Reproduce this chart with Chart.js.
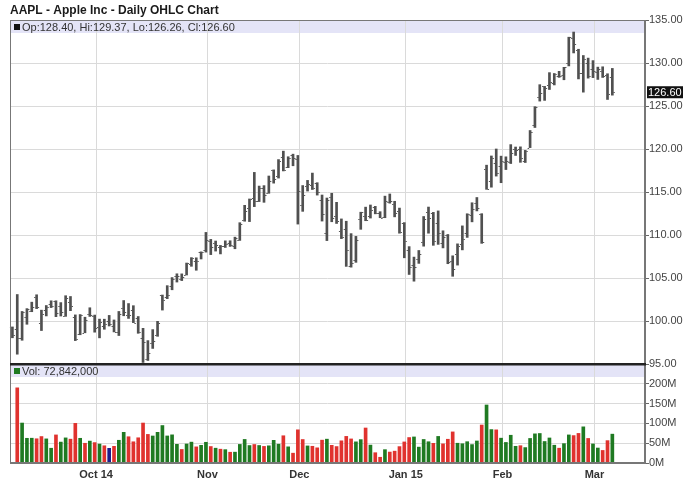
<!DOCTYPE html>
<html>
<head>
<meta charset="utf-8">
<script src="https://cdn.jsdelivr.net/npm/chart.js@4.4.0/dist/chart.umd.min.js"></script>
<style>
  html, body { margin: 0; padding: 0; background: #fff; }
</style>
</head>
<body>
<canvas id="grafico" width="688" height="503"></canvas>
<script>
// Dias de pregão (AAPL, set/2014 a mar/2015)
const dates = [
  '2014-09-08','2014-09-09','2014-09-10','2014-09-11','2014-09-12',
  '2014-09-15','2014-09-16','2014-09-17','2014-09-18','2014-09-19',
  '2014-09-22','2014-09-23','2014-09-24','2014-09-25','2014-09-26',
  '2014-09-29','2014-09-30',
  '2014-10-01','2014-10-02','2014-10-03',
  '2014-10-06','2014-10-07','2014-10-08','2014-10-09','2014-10-10',
  '2014-10-13','2014-10-14','2014-10-15','2014-10-16','2014-10-17',
  '2014-10-20','2014-10-21','2014-10-22','2014-10-23','2014-10-24',
  '2014-10-27','2014-10-28','2014-10-29','2014-10-30','2014-10-31',
  '2014-11-03','2014-11-04','2014-11-05','2014-11-06','2014-11-07',
  '2014-11-10','2014-11-11','2014-11-12','2014-11-13','2014-11-14',
  '2014-11-17','2014-11-18','2014-11-19','2014-11-20','2014-11-21',
  '2014-11-24','2014-11-25','2014-11-26','2014-11-28',
  '2014-12-01','2014-12-02','2014-12-03','2014-12-04','2014-12-05',
  '2014-12-08','2014-12-09','2014-12-10','2014-12-11','2014-12-12',
  '2014-12-15','2014-12-16','2014-12-17','2014-12-18','2014-12-19',
  '2014-12-22','2014-12-23','2014-12-24','2014-12-26',
  '2014-12-29','2014-12-30','2014-12-31',
  '2015-01-02',
  '2015-01-05','2015-01-06','2015-01-07','2015-01-08','2015-01-09',
  '2015-01-12','2015-01-13','2015-01-14','2015-01-15','2015-01-16',
  '2015-01-20','2015-01-21','2015-01-22','2015-01-23',
  '2015-01-26','2015-01-27','2015-01-28','2015-01-29','2015-01-30',
  '2015-02-02','2015-02-03','2015-02-04','2015-02-05','2015-02-06',
  '2015-02-09','2015-02-10','2015-02-11','2015-02-12','2015-02-13',
  '2015-02-17','2015-02-18','2015-02-19','2015-02-20',
  '2015-02-23','2015-02-24','2015-02-25','2015-02-26','2015-02-27',
  '2015-03-02','2015-03-03','2015-03-04','2015-03-05','2015-03-06'
];

const opens = [
  99.30, 99.08, 98.01, 100.41, 101.21, 102.81, 99.80, 101.27, 101.93, 102.29,
  101.80, 100.60, 102.16, 100.51, 98.53, 98.65, 100.81,
  100.59, 99.27, 99.44, 99.95, 99.43, 98.76, 101.54, 100.69, 101.33, 100.39,
  97.97, 95.55, 97.50, 98.32, 103.02, 102.84, 104.08, 105.18, 104.85, 105.40,
  106.65, 106.96, 108.01,
  108.22, 109.36, 109.10, 108.60, 108.75, 109.02, 108.70, 109.38, 111.80, 113.15,
  114.27, 113.94, 115.44, 114.91, 117.51, 116.85, 119.07, 117.94, 119.27,
  118.81, 113.50, 115.75, 115.77, 115.99, 114.10, 110.19, 114.41, 112.26, 110.46,
  110.70, 106.37, 107.12, 111.87, 112.26, 112.16, 113.23, 112.58, 112.10, 113.79,
  113.64, 112.82,
  111.39, 108.29, 106.54, 107.20, 109.23, 112.67, 112.60, 111.43, 109.04, 110.00,
  107.03, 107.84, 108.95, 110.26, 112.30, 113.74, 112.42, 117.63, 116.32, 118.40,
  118.05, 118.50, 118.50, 120.02, 120.02, 118.55, 120.17, 122.77, 126.06, 127.28,
  127.49, 127.63, 128.48, 128.62, 130.02, 132.94, 131.56, 128.79, 130.00,
  129.25, 128.96, 129.10, 128.58, 128.40
];

const highs = [
  99.31, 103.08, 101.11, 101.44, 102.19, 103.05, 101.26, 101.80, 102.35, 102.35,
  102.14, 102.94, 102.85, 100.71, 100.75, 100.44, 101.54,
  100.69, 100.22, 100.21, 100.65, 100.12, 101.11, 102.38, 102.03, 101.78, 100.52,
  99.15, 97.72, 99.00, 99.96, 103.02, 104.11, 105.05, 105.49, 105.48, 106.74,
  107.37, 107.35, 108.04,
  110.30, 109.49, 109.30, 108.79, 109.32, 109.33, 109.75, 111.43, 113.45, 114.19,
  117.28, 115.69, 115.74, 116.86, 117.57, 118.77, 119.75, 119.10, 119.40,
  119.25, 115.75, 116.35, 117.20, 116.08, 114.65, 114.30, 114.85, 113.80, 111.87,
  111.60, 110.16, 109.84, 112.65, 113.24, 113.49, 113.33, 112.71, 114.52, 114.77,
  113.92, 113.13,
  111.44, 108.65, 107.43, 108.20, 112.15, 113.25, 112.63, 112.80, 110.49, 110.06,
  107.58, 108.97, 111.06, 112.47, 113.75, 114.36, 112.48, 118.12, 119.19, 120.00,
  119.17, 119.09, 120.51, 120.23, 120.25, 119.84, 122.15, 124.92, 127.48, 127.28,
  128.88, 128.78, 129.03, 129.50, 133.00, 133.60, 131.60, 130.87, 130.57,
  130.28, 129.52, 129.56, 128.75, 129.37
];

const lows = [
  98.05, 96.14, 97.76, 99.62, 101.08, 101.44, 98.89, 100.59, 101.56, 100.50,
  100.58, 100.54, 101.20, 97.72, 98.40, 98.63, 100.53,
  98.70, 98.04, 99.04, 99.42, 98.73, 98.31, 100.61, 100.30, 99.81, 98.57,
  95.18, 95.41, 96.81, 98.22, 101.27, 102.60, 103.63, 104.53, 104.70, 105.35,
  106.36, 105.90, 107.21,
  108.01, 107.72, 108.13, 107.80, 108.55, 108.67, 108.40, 109.37, 111.60, 111.56,
  113.30, 113.89, 113.80, 114.85, 116.03, 116.62, 117.45, 117.83, 118.05,
  111.27, 112.75, 115.11, 115.29, 114.64, 111.62, 109.35, 111.54, 111.34, 109.58,
  106.35, 106.26, 106.82, 110.66, 111.66, 111.97, 112.46, 112.01, 112.01, 113.70,
  112.11, 110.21,
  107.35, 105.41, 104.63, 106.70, 108.70, 110.21, 108.80, 108.91, 108.50, 106.66,
  105.20, 106.50, 108.27, 109.72, 111.53, 112.80, 109.03, 115.31, 115.56, 116.85,
  116.08, 117.61, 118.31, 119.25, 118.45, 118.43, 120.16, 122.50, 125.57, 125.65,
  126.92, 127.45, 128.33, 128.05, 129.66, 131.17, 128.15, 126.61, 128.24,
  128.30, 128.09, 128.32, 125.76, 126.26
];

const closes = [
  98.36, 97.99, 101.00, 101.43, 101.66, 101.63, 100.86, 101.58, 101.79, 100.96,
  101.06, 102.64, 101.75, 97.87, 100.75, 100.11, 100.75,
  99.18, 99.90, 99.62, 99.62, 98.75, 100.80, 101.02, 100.73, 99.81, 98.75,
  97.54, 96.26, 97.67, 99.76, 102.47, 102.99, 104.83, 105.22, 105.11, 106.74,
  107.34, 106.98, 108.00,
  109.40, 108.60, 108.86, 108.70, 109.01, 108.83, 109.70, 111.25, 112.82, 114.18,
  113.99, 115.47, 114.67, 116.31, 116.47, 118.62, 117.60, 119.00, 118.93,
  115.07, 114.63, 115.93, 115.49, 115.00, 112.40, 114.12, 111.95, 111.62, 109.73,
  108.23, 106.75, 109.41, 112.65, 111.78, 112.94, 112.54, 112.01, 113.99, 113.91,
  112.52, 110.38,
  109.33, 106.25, 106.26, 107.75, 111.89, 112.01, 109.25, 110.22, 109.80, 106.82,
  105.99, 108.72, 109.55, 112.40, 112.98, 113.10, 109.14, 115.31, 118.90, 117.16,
  118.63, 118.65, 119.56, 119.94, 118.93, 119.72, 122.02, 124.88, 126.46, 127.08,
  127.83, 128.72, 128.45, 129.50, 133.00, 132.17, 128.79, 130.42, 128.46,
  129.09, 129.36, 128.54, 126.41, 126.60
];

// Volume em milhões (primeiro dia sem barra no original)
const volumes = [
  null, 189.8, 100.9, 62.4, 62.6, 61.2, 66.8, 60.9, 37.3, 70.9,
  52.8, 63.4, 60.2, 100.1, 62.4, 49.8, 55.3,
  51.5, 47.8, 43.5, 37.1, 42.1, 57.4, 77.4, 66.3, 53.6, 63.7,
  100.9, 72.2, 68.2, 77.5, 94.6, 68.3, 71.1, 47.1, 34.2, 48.0,
  52.7, 40.7, 44.6,
  52.3, 41.6, 37.4, 34.9, 33.7, 27.2, 27.4, 46.9, 59.5, 44.1,
  46.7, 44.2, 41.9, 43.4, 57.2, 47.5, 68.8, 40.8, 24.8,
  83.8, 59.3, 43.1, 42.2, 38.3, 57.7, 60.2, 44.6, 41.5, 56.0,
  67.2, 60.8, 53.4, 59.0, 88.4, 45.2, 26.0, 14.5, 33.7, 27.6,
  29.9, 41.4,
  53.2, 64.3, 65.8, 40.1, 59.4, 53.7, 49.7, 67.1, 48.3, 60.0,
  78.5, 49.9, 48.6, 53.8, 46.5, 55.6, 95.9, 146.5, 84.4, 83.7,
  62.7, 51.9, 70.1, 42.2, 43.7, 38.9, 62.0, 73.6, 74.5, 54.3,
  63.2, 44.9, 37.4, 48.9, 70.9, 69.2, 74.7, 91.3, 62.0,
  48.1, 37.8, 31.7, 56.5, 72.842
];

const monthLabels = ['Oct 14', 'Nov', 'Dec', 'Jan 15', 'Feb', 'Mar'];
const priceMin = 95, priceMax = 135, priceStep = 5;
const volMax = 250;
const volTicks = [0, 50, 100, 150, 200];

const FONTE = '"Liberation Sans", Arial, sans-serif';

// primeiro pregão de cada mês
const monthStarts = [];
dates.forEach((d, i) => {
  if (i > 0 && d.slice(5, 7) !== dates[i - 1].slice(5, 7)) monthStarts.push(i);
});
const tickLabel = {};
monthStarts.forEach((idx, k) => { tickLabel[idx + 0.3] = monthLabels[k]; });

// cor do volume: fechamento contra o fechamento anterior
const volColors = closes.map((c, i) => {
  if (i === 0) return 'rgba(0,0,0,0)';
  if (c > closes[i - 1]) return '#1f7a22';
  if (c < closes[i - 1]) return '#e0322e';
  return '#1c1c8c';
});

const last = closes.length - 1;
const fmt = v => v.toFixed(2);

const painel = {
  id: 'painel',
  beforeDraw(chart) {
    const { ctx, chartArea: a, scales } = chart;
    ctx.save();
    ctx.fillStyle = '#fff';
    ctx.fillRect(0, 0, chart.width, chart.height);
    ctx.fillStyle = '#e4e4f7';
    ctx.fillRect(a.left, a.top, a.right - a.left, 13);
    ctx.fillRect(a.left, scales.yVol.top, a.right - a.left, 13);
    ctx.restore();
  },
  afterDatasetsDraw(chart) {
    // tracinhos de abertura (esq.) e fechamento (dir.)
    const { ctx, scales: { x, y } } = chart;
    ctx.save();
    ctx.strokeStyle = '#5a5a5a';
    ctx.lineWidth = 1;
    ctx.beginPath();
    opens.forEach((o, i) => {
      const px = x.getPixelForValue(i);
      const yo = Math.round(y.getPixelForValue(o)) + 0.5;
      const yc = Math.round(y.getPixelForValue(closes[i])) + 0.5;
      ctx.moveTo(px - 2.5, yo); ctx.lineTo(px - 1, yo);
      ctx.moveTo(px + 1, yc); ctx.lineTo(px + 2.5, yc);
    });
    ctx.stroke();
    ctx.restore();
  },
  afterDraw(chart) {
    const { ctx, chartArea: a, scales: { y, yVol } } = chart;
    ctx.save();

    // título
    ctx.fillStyle = '#1a1a1a';
    ctx.font = 'bold 12px ' + FONTE;
    ctx.textBaseline = 'alphabetic';
    ctx.textAlign = 'left';
    ctx.fillText('AAPL - Apple Inc - Daily OHLC Chart', 10, 13.5);

    // legendas das faixas
    ctx.font = '11px ' + FONTE;
    ctx.fillStyle = '#111';
    ctx.fillRect(a.left + 4, a.top + 4, 6, 6);
    ctx.fillStyle = '#333';
    ctx.fillText('Op:' + fmt(opens[last]) + ', Hi:' + fmt(highs[last]) +
      ', Lo:' + fmt(lows[last]) + ', Cl:' + fmt(closes[last]), a.left + 12, a.top + 11);

    ctx.fillStyle = '#1f7a22';
    ctx.fillRect(a.left + 4, yVol.top + 4, 6, 6);
    ctx.fillStyle = '#333';
    const volTxt = Math.round(volumes[last] * 1000000).toLocaleString('en-US');
    ctx.fillText('Vol: ' + volTxt, a.left + 12, yVol.top + 11);

    // molduras
    ctx.strokeStyle = '#777';
    ctx.lineWidth = 1;
    ctx.strokeRect(a.left + 0.5, a.top + 0.5, a.right - a.left - 1, a.bottom - a.top - 1);
    ctx.fillStyle = '#222';
    ctx.fillRect(a.left, y.bottom - 1, a.right - a.left + 1, 2.5);

    // último preço no eixo
    const yl = y.getPixelForValue(closes[last]);
    ctx.fillStyle = '#111';
    ctx.fillRect(a.right + 2, yl - 6, 36, 12);
    ctx.fillStyle = '#fff';
    ctx.textBaseline = 'middle';
    ctx.fillText(fmt(closes[last]), a.right + 3, yl + 0.5);
    ctx.restore();
  }
};

new Chart(document.getElementById('grafico'), {
  type: 'bar',
  data: {
    datasets: [
      {
        label: 'AAPL',
        data: dates.map((d, i) => ({ x: i, y: [lows[i], highs[i]] })),
        xAxisID: 'x',
        yAxisID: 'y',
        backgroundColor: '#505050',
        barThickness: 2,
        grouped: false
      },
      {
        label: 'Vol',
        data: dates.map((d, i) => ({ x: i, y: volumes[i] })),
        xAxisID: 'x',
        yAxisID: 'yVol',
        backgroundColor: volColors,
        barThickness: 3,
        grouped: false
      }
    ]
  },
  options: {
    responsive: false,
    animation: false,
    devicePixelRatio: 1,
    layout: { padding: { top: 20, left: 10, right: 0, bottom: 0 } },
    plugins: {
      legend: { display: false },
      tooltip: { enabled: false },
      title: { display: false }
    },
    scales: {
      x: {
        type: 'linear',
        position: 'bottom',
        min: -0.5,
        max: 130.75,
        offset: false,
        afterBuildTicks: s => { s.ticks = monthStarts.map(i => ({ value: i + 0.3 })); },
        afterFit: s => { s.height = 40; },
        grid: { color: '#dadada', offset: false, drawTicks: false },
        border: { color: '#777' },
        ticks: {
          autoSkip: false,
          maxRotation: 0,
          padding: 5,
          color: '#333',
          font: { family: FONTE, size: 11, weight: 'bold' },
          callback: v => tickLabel[v] || ''
        }
      },
      y: {
        type: 'linear',
        position: 'right',
        stack: 'painel',
        stackWeight: 344,
        min: priceMin,
        max: priceMax,
        afterFit: s => { s.width = 43; },
        grid: { color: '#dadada', tickColor: '#666', tickLength: 4 },
        border: { color: '#777' },
        ticks: {
          stepSize: priceStep,
          autoSkip: false,
          padding: 0,
          color: '#444',
          font: { family: FONTE, size: 11 },
          callback: v => fmt(v)
        }
      },
      yVol: {
        type: 'linear',
        position: 'right',
        stack: 'painel',
        stackWeight: 99,
        min: 0,
        max: volMax,
        afterFit: s => { s.width = 43; },
        afterBuildTicks: s => { s.ticks = volTicks.map(v => ({ value: v })); },
        grid: { color: '#dadada', tickColor: '#666', tickLength: 4 },
        border: { color: '#777' },
        ticks: {
          autoSkip: false,
          padding: 0,
          color: '#444',
          font: { family: FONTE, size: 11 },
          callback: v => v + 'M'
        }
      }
    }
  },
  plugins: [painel]
});
</script>
</body>
</html>
